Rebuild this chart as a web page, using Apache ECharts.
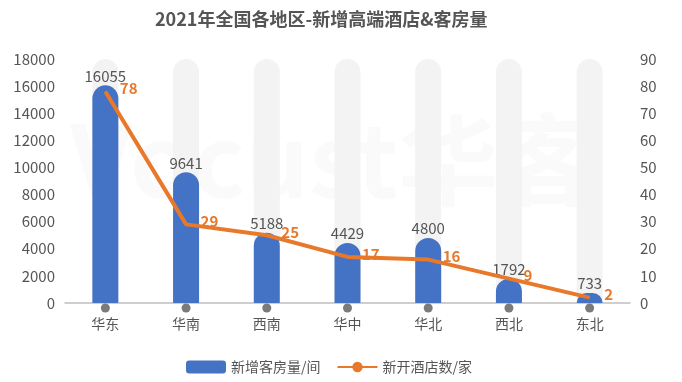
<!DOCTYPE html>
<html><head><meta charset="utf-8">
<script src="https://cdn.jsdelivr.net/npm/echarts@6/dist/echarts.min.js"></script>
<style>html,body{margin:0;padding:0;background:#fff}#c{width:682px;height:382px}</style>
</head><body><div id="c"></div>
<script>
var categories = ['华东','华南','西南','华中','华北','西北','东北'];
var roomValues = [16055, 9641, 5188, 4429, 4800, 1792, 733];
var hotelValues = [78, 29, 25, 17, 16, 9, 2];
var axisDots = [0, 0, 0, 0, 0, 0, 0];
var leftTicks = {min: 0, max: 18000, interval: 2000};
var rightTicks = {min: 0, max: 90, interval: 10};
var title = '2021年全国各地区-新增高端酒店&客房量';
var seriesNames = ['新增客房量/间', '新开酒店数/家'];

var font = '"Noto Sans CJK SC", "Noto Sans", sans-serif';
var chart = echarts.init(document.getElementById('c'));
chart.setOption({
  animation: false,
  textStyle: {fontFamily: font},
  title: {text: title, left: 150, top: 5,
    textStyle: {fontSize: 18, fontWeight: 'bold', color: '#555', fontFamily: font}},
  graphic: [{type: 'text', left: 70, top: 110, silent: true, z: -10,
    style: {text: 'Vocust华客', fontSize: 100, fontWeight: 'bold', fontFamily: font,
      fill: 'rgba(0,0,0,0.02)'}}],
  legend: {data: seriesNames, left: 181, top: 355, itemWidth: 40, itemHeight: 13, itemGap: 16,
    textStyle: {fontSize: 14, color: '#555', fontFamily: font}},
  grid: {left: 65, right: 52, top: 59, bottom: 79, containLabel: false},
  xAxis: {type: 'category', data: categories, offset: 5,
    axisLine: {lineStyle: {color: '#bfbfbf', width: 1.5}},
    axisTick: {show: false},
    axisLabel: {fontSize: 14, color: '#555', margin: 9, fontFamily: font}},
  yAxis: [
    {type: 'value', min: leftTicks.min, max: leftTicks.max, interval: leftTicks.interval,
      splitLine: {show: false}, axisLine: {show: false}, axisTick: {show: false},
      axisLabel: {fontSize: 15, color: '#555', margin: 10, fontFamily: font,
        formatter: function (v) { return String(v); }}},
    {type: 'value', min: rightTicks.min, max: rightTicks.max, interval: rightTicks.interval,
      splitLine: {show: false}, axisLine: {show: false}, axisTick: {show: false},
      axisLabel: {fontSize: 15, color: '#555', margin: 10, fontFamily: font}}
  ],
  series: [
    {name: seriesNames[0], type: 'bar', data: roomValues, barWidth: 26,
      itemStyle: {color: '#4472C4', borderRadius: [13, 13, 0, 0]},
      showBackground: true,
      backgroundStyle: {color: '#f3f3f3', borderRadius: [13, 13, 0, 0]},
      label: {show: true, position: 'top', distance: 2, fontSize: 15, color: '#555', fontFamily: font}},
    {name: seriesNames[1], type: 'line', yAxisIndex: 1, data: hotelValues,
      symbol: 'circle', symbolSize: 1, showSymbol: true,
      lineStyle: {color: '#E8782A', width: 4},
      itemStyle: {color: '#E8782A'},
      label: {show: true, position: 'right', distance: 14, offset: [0, -3], fontSize: 15, fontWeight: 'bold',
        color: '#E8782A', fontFamily: font}, z: 5},
    {name: 'dots', type: 'scatter', data: axisDots, symbolSize: 9, symbolOffset: [0, 5], silent: true,
      itemStyle: {color: '#5a5a5a'}, z: 6, clip: false}
  ]
});
</script></body></html>
